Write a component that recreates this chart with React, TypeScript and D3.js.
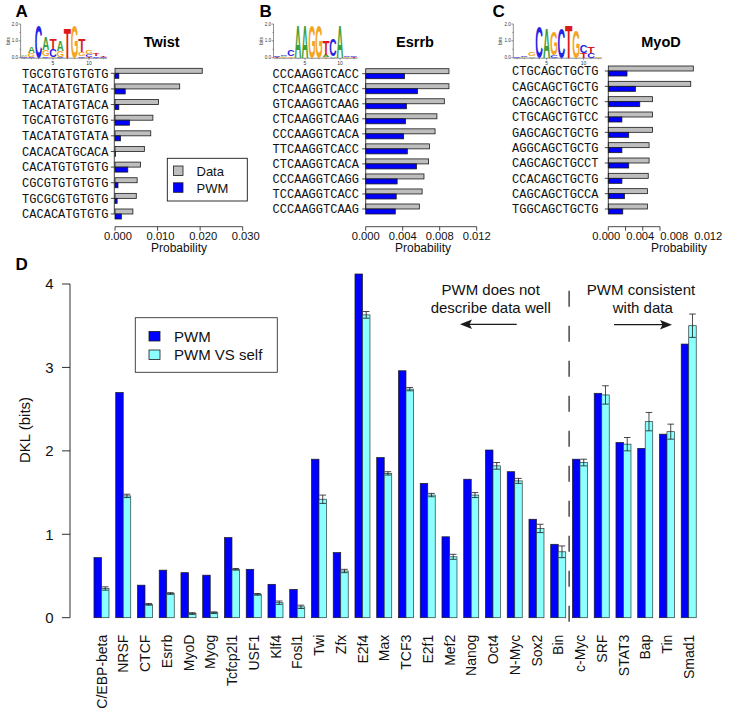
import React from "react";
import * as d3 from "d3";

// ---------------- DATA ----------------
const TWIST_SEQS = ["TGCGTGTGTGTG","TACATATGTATG","TACATATGTACA","TGCATGTGTGTG","TACATATGTATA","CACACATGCACA","CACATGTGTGTG","CGCGTGTGTGTG","TGCGCGTGTGTG","CACACATGTGTG"];
const TWIST_DATA = [0.0205,0.0152,0.0102,0.0089,0.0084,0.0069,0.0060,0.0052,0.0050,0.0042];
const TWIST_PWM = [0.0009,0.0024,0.0009,0.0034,0.0013,0.0001,0.0030,0.0007,0.0005,0.0015];

const ESRRB_SEQS = ["CCCAAGGTCACC","CTCAAGGTCACC","GTCAAGGTCAAG","CTCAAGGTCAAG","CCCAAGGTCACA","TTCAAGGTCACC","CTCAAGGTCACA","CCCAAGGTCAGG","TCCAAGGTCACC","CCCAAGGTCAAG"];
const ESRRB_DATA = [0.0090,0.0090,0.0085,0.0077,0.0075,0.0069,0.0068,0.0063,0.0061,0.0058];
const ESRRB_PWM = [0.0042,0.0056,0.0044,0.0043,0.0041,0.0045,0.0055,0.0034,0.0033,0.0032];

const MYOD_SEQS = ["CTGCAGCTGCTG","CAGCAGCTGCTG","CAGCAGCTGCTC","CTGCAGCTGTCC","GAGCAGCTGCTG","AGGCAGCTGCTG","CAGCAGCTGCCT","CCACAGCTGCTG","CAGCAGCTGCCA","TGGCAGCTGCTG"];
const MYOD_DATA = [0.0100,0.0097,0.0052,0.0052,0.0052,0.0048,0.0048,0.0047,0.0046,0.0046];
const MYOD_PWM = [0.0022,0.0032,0.0037,0.0016,0.0024,0.0016,0.0024,0.0016,0.0019,0.0017];

const TICKS_A = [0, 0.01, 0.02, 0.03];
const TICKS_BC = [0, 0.004, 0.008, 0.012];

type Col = [string, number][];
const TWIST_LOGO: Col[] = [
  [["C",0.04],["G",0.04],["A",0.05]],
  [["C",0.05],["G",0.25],["A",0.35]],
  [["C",2.0]],
  [["C",0.08],["G",0.4],["A",0.75]],
  [["G",0.05],["C",0.45],["T",0.6]],
  [["C",0.05],["G",0.35],["A",0.65]],
  [["T",1.85]],
  [["G",2.0]],
  [["C",0.1],["G",0.25],["T",0.8]],
  [["T",0.05],["C",0.15],["G",0.2]],
  [["C",0.08],["T",0.12]],
  [["C",0.04],["T",0.06]],
];
const ESRRB_LOGO: Col[] = [
  [["T",0.03],["A",0.04],["C",0.05]],
  [["G",0.04],["A",0.05],["C",0.08]],
  [["G",0.1],["C",0.35]],
  [["A",2.0]],
  [["A",2.0]],
  [["G",2.0]],
  [["G",2.0]],
  [["G",0.06],["A",0.12],["T",0.9]],
  [["A",0.08],["C",1.0]],
  [["A",2.0]],
  [["G",0.04],["C",0.05]],
  [["T",0.03],["C",0.04]],
];
const MYOD_LOGO: Col[] = [
  [["C",0.03]],
  [["G",0.04],["C",0.05]],
  [["A",0.1],["G",0.2]],
  [["C",1.9]],
  [["A",1.85]],
  [["C",0.15],["G",1.45]],
  [["C",1.85]],
  [["T",2.0]],
  [["G",1.65]],
  [["T",0.3],["C",0.45]],
  [["C",0.3],["T",0.4]],
  [["G",0.04]],
];

const D_CATS = ["C/EBP-beta","NRSF","CTCF","Esrrb","MyoD","Myog","Tcfcp2l1","USF1","Klf4","Fosl1","Twi","Zfx","E2f4","Max","TCF3","E2f1","Mef2","Nanog","Oct4","N-Myc","Sox2","Bin","c-Myc","SRF","STAT3","Bap","Tin","Smad1"];
const D_PWM = [0.72,2.70,0.39,0.57,0.54,0.51,0.96,0.58,0.40,0.34,1.90,0.78,4.12,1.92,2.96,1.61,0.97,1.66,2.01,1.75,1.18,0.88,1.90,2.69,2.10,2.03,2.20,3.28];
const D_SELF = [0.35,1.46,0.16,0.29,0.05,0.06,0.58,0.28,0.18,0.13,1.42,0.56,3.63,1.73,2.74,1.47,0.73,1.47,1.82,1.64,1.07,0.79,1.86,2.67,2.08,2.35,2.23,3.50];
const D_ERR = [0.02,0.02,0.01,0.01,0.01,0.01,0.01,0.01,0.02,0.02,0.05,0.02,0.04,0.02,0.02,0.02,0.03,0.03,0.04,0.03,0.05,0.07,0.04,0.11,0.08,0.11,0.09,0.14];
const D_Y_TICKS = [0, 1, 2, 3, 4];

// ---------------- STYLE ----------------
const FONT = "'Liberation Sans', Arial, Helvetica, sans-serif";
const MONO = "'Liberation Mono', 'Courier New', monospace";
const INK = "#1a1a1a";
const BLUE = "#0000FF";
const CYAN = "#8CFFFF";
const GRAY = "#BEBEBE";
const LETTER_COLORS: Record<string, string> = { A: "#3E9E3A", C: "#2424E6", G: "#F2A51F", T: "#DC1A1A" };
const LETTER_INK: Record<string, number> = { A: 7.0, C: 6.6, G: 7.0, T: 5.8 };

function Logo({ cols, x0, w, y0, bpx }: { cols: Col[]; x0: number; w: number; y0: number; bpx: number }) {
  const n = cols.length;
  const xs = d3.scaleLinear().domain([0.5, n + 0.5]).range([x0, x0 + n * w]);
  const ys = d3.scaleLinear().domain([0, 2]).range([y0, y0 - 2 * bpx]);
  const letters: JSX.Element[] = [];
  cols.forEach((col, i) => {
    let yb = ys(0);
    col.forEach(([ch, b], j) => {
      const h = ys(0) - ys(b);
      const sx = (w * 0.95) / LETTER_INK[ch];
      const sy = h / 7.2;
      letters.push(
        <text key={`${i}-${j}`} transform={`translate(${xs(i + 1)},${yb}) scale(${sx},${sy})`} textAnchor="middle"
          fontFamily={FONT} fontWeight="bold" fontSize={10} fill={LETTER_COLORS[ch]}>{ch}</text>
      );
      yb -= h;
    });
  });
  return (
    <g>
      <line x1={x0} x2={x0} y1={ys(0)} y2={ys(2)} stroke="#444" strokeWidth={0.6} />
      {[0, 0.5, 1, 1.5, 2].map((t) => (
        <line key={t} x1={x0 - (t % 1 === 0 ? 2 : 1)} x2={x0} y1={ys(t)} y2={ys(t)} stroke="#444" strokeWidth={0.6} />
      ))}
      {[0, 1, 2].map((t) => (
        <text key={t} x={x0 - 2.5} y={ys(t)} dy="0.35em" textAnchor="end" fontFamily={FONT} fontSize={4.5} fill="#333">{t.toFixed(1)}</text>
      ))}
      <text transform={`translate(${x0 - 11},${ys(1)}) rotate(-90)`} textAnchor="middle" fontFamily={FONT} fontSize={5} fill="#333">bits</text>
      <line x1={x0} x2={xs(n + 0.5)} y1={ys(0) + 0.5} y2={ys(0) + 0.5} stroke="#444" strokeWidth={0.6} />
      {d3.range(1, n + 1).map((p) => (
        <line key={p} x1={xs(p)} x2={xs(p)} y1={ys(0) + 0.5} y2={ys(0) + (p % 5 === 0 ? 2.5 : 1.5)} stroke="#444" strokeWidth={0.5} />
      ))}
      {[5, 10].map((p) => (
        <text key={p} x={xs(p)} y={ys(0) + 7} textAnchor="middle" fontFamily={FONT} fontSize={5} fill="#333">{p}</text>
      ))}
      {letters}
    </g>
  );
}

type PanelCfg = {
  letter: string; letterX: number;
  domainMax: number; ticks: number[]; range: [number, number]; tickRange?: [number, number]; labelDx: number;
  rows: [number, number]; labelEnd: number; axisX: number;
  title: string; titleX: number; probX: number;
  logo: Col[]; logoX0: number; logoW: number;
  legend?: boolean;
};

function ProbPanel({ seqs, data, pwm, cfg }: { seqs: string[]; data: number[]; pwm: number[]; cfg: PanelCfg }) {
  const x = d3.scaleLinear().domain([0, cfg.domainMax]).range(cfg.range);
  const xt = cfg.tickRange ? d3.scaleLinear().domain([0, cfg.domainMax]).range(cfg.tickRange) : x;
  const y = d3.scalePoint<number>().domain(d3.range(seqs.length)).range(cfg.rows);
  const barH = 5;
  const axisY = 226.7;
  return (
    <g>
      <text x={cfg.letterX} y={17} fontFamily={FONT} fontWeight="bold" fontSize={17} fill="#000">{cfg.letter}</text>
      <Logo cols={cfg.logo} x0={cfg.logoX0} w={cfg.logoW} y0={57.7} bpx={16.85} />
      <text x={cfg.titleX} y={47.3} textAnchor="middle" fontFamily={FONT} fontWeight="bold" fontSize={14.5} fill="#000">{cfg.title}</text>
      {seqs.map((s, i) => (
        <g key={i}>
          <rect x={x(0)} y={(y(i) as number) - barH} width={x(data[i]) - x(0)} height={barH} fill={GRAY} stroke={INK} strokeWidth={0.8} />
          <rect x={x(0)} y={y(i) as number} width={Math.max(0.4, x(pwm[i]) - x(0))} height={barH} fill={BLUE} stroke={INK} strokeWidth={0.8} />
          <line x1={cfg.axisX - 3.5} x2={cfg.axisX} y1={y(i) as number} y2={y(i) as number} stroke={INK} strokeWidth={0.8} />
          <text x={cfg.labelEnd} y={y(i) as number} dy="0.35em" textAnchor="end" fontFamily={MONO} fontSize={12} fill="#111">{s}</text>
        </g>
      ))}
      <line x1={cfg.axisX} x2={cfg.axisX} y1={y(0) as number} y2={y(seqs.length - 1) as number} stroke={INK} strokeWidth={0.8} />
      <line x1={xt(0)} x2={xt(cfg.domainMax)} y1={axisY} y2={axisY} stroke={INK} strokeWidth={0.8} />
      {cfg.ticks.map((t) => (
        <g key={t}>
          <line x1={xt(t)} x2={xt(t)} y1={axisY} y2={axisY + 4} stroke={INK} strokeWidth={0.8} />
          <text x={x(t) + cfg.labelDx} y={240} textAnchor="middle" fontFamily={FONT} fontSize={11.2} fill="#111">{t.toFixed(3)}</text>
        </g>
      ))}
      <text x={cfg.probX} y={252} textAnchor="middle" fontFamily={FONT} fontSize={12} fill="#111">Probability</text>
      {cfg.legend && (
        <g>
          <rect x={167.3} y={158.3} width={80} height={42.7} fill="#fff" stroke={INK} strokeWidth={0.9} />
          <rect x={173.5} y={166} width={9.5} height={9.5} fill={GRAY} stroke={INK} strokeWidth={0.8} />
          <rect x={173.5} y={182.8} width={9.5} height={9.5} fill={BLUE} stroke={INK} strokeWidth={0.8} />
          <text x={196.5} y={176.2} fontFamily={FONT} fontSize={13} fill="#111">Data</text>
          <text x={196.5} y={193} fontFamily={FONT} fontSize={13} fill="#111">PWM</text>
        </g>
      )}
    </g>
  );
}

function PanelD() {
  const x = d3.scaleBand<string>().domain(D_CATS).range([90.6, 699.6]).paddingInner(0.31).paddingOuter(0.155);
  const y = d3.scaleLinear().domain([0, 4]).range([617.7, 284]);
  const bw = x.bandwidth() / 2;
  const axisX = 70;
  const iBin = D_CATS.indexOf("Bin");
  const dashX = ((x(D_CATS[iBin]) as number) + 2 * bw + (x(D_CATS[iBin + 1]) as number)) / 2;
  return (
    <g>
      <text x={15.5} y={269.5} fontFamily={FONT} fontWeight="bold" fontSize={17} fill="#000">D</text>
      <line x1={axisX} x2={axisX} y1={y(0)} y2={y(4)} stroke={INK} strokeWidth={0.9} />
      {D_Y_TICKS.map((t) => (
        <g key={t}>
          <line x1={axisX - 8} x2={axisX} y1={y(t)} y2={y(t)} stroke={INK} strokeWidth={0.9} />
          <text x={53.5} y={y(t)} dy="0.36em" textAnchor="end" fontFamily={FONT} fontSize={15} fill="#111">{t}</text>
        </g>
      ))}
      <text transform={`translate(25,${y(2.25)}) rotate(-90)`} dy="0.36em" textAnchor="middle" fontFamily={FONT} fontSize={15} fill="#111">DKL (bits)</text>
      {D_CATS.map((c, i) => {
        const x0 = x(c) as number;
        const cx = x0 + bw * 1.5;
        const lo = y(D_SELF[i] - D_ERR[i]);
        const hi = y(D_SELF[i] + D_ERR[i]);
        return (
          <g key={c}>
            <rect x={x0} y={y(D_PWM[i])} width={bw} height={y(0) - y(D_PWM[i])} fill={BLUE} stroke={INK} strokeWidth={0.7} />
            <rect x={x0 + bw} y={y(D_SELF[i])} width={bw} height={y(0) - y(D_SELF[i])} fill={CYAN} stroke="#2a3a3a" strokeWidth={0.7} />
            <line x1={cx} x2={cx} y1={lo} y2={hi} stroke={INK} strokeWidth={0.8} />
            <line x1={cx - 3.3} x2={cx + 3.3} y1={lo} y2={lo} stroke={INK} strokeWidth={0.8} />
            <line x1={cx - 3.3} x2={cx + 3.3} y1={hi} y2={hi} stroke={INK} strokeWidth={0.8} />
            <text transform={`translate(${x0 + bw},${y(0) + 17}) rotate(-90)`} dy="0.36em" textAnchor="end" fontFamily={FONT} fontSize={14} fill="#111">{c}</text>
          </g>
        );
      })}
      <line x1={dashX} x2={dashX} y1={y(0) + 4} y2={y(4) - 9} stroke={INK} strokeWidth={1.2} strokeDasharray="16,19" />
      {/* legend */}
      <rect x={135.3} y={317.7} width={142} height={54.6} fill="#fff" stroke="#333" strokeWidth={0.9} />
      <rect x={149} y={331.5} width={11} height={9.5} fill={BLUE} stroke={INK} strokeWidth={0.8} />
      <rect x={149} y={350} width={11} height={9.5} fill={CYAN} stroke={INK} strokeWidth={0.8} />
      <text x={174} y={341.7} fontFamily={FONT} fontSize={15} fill="#111">PWM</text>
      <text x={174} y={360} fontFamily={FONT} fontSize={15} fill="#111">PWM VS self</text>
      {/* annotations */}
      <text x={490.7} y={294.5} textAnchor="middle" fontFamily={FONT} fontSize={15} fill="#111">PWM does not</text>
      <text x={490.7} y={312.5} textAnchor="middle" fontFamily={FONT} fontSize={15} fill="#111">describe data well</text>
      <line x1={516.7} x2={468} y1={324.3} y2={324.3} stroke={INK} strokeWidth={1.2} />
      <path d="M460,324.3 L472,319.6 L469.5,324.3 L472,329 Z" fill={INK} />
      <text x={641} y={294.5} textAnchor="middle" fontFamily={FONT} fontSize={15} fill="#111">PWM consistent</text>
      <text x={642.8} y={312.5} textAnchor="middle" fontFamily={FONT} fontSize={15} fill="#111">with data</text>
      <line x1={614} x2={664} y1={324.7} y2={324.7} stroke={INK} strokeWidth={1.2} />
      <path d="M672,324.7 L660,320 L662.5,324.7 L660,329.4 Z" fill={INK} />
    </g>
  );
}

const CFG_A: PanelCfg = {
  letter: "A", letterX: 15.5, domainMax: 0.03, ticks: TICKS_A, range: [115, 242.7], labelDx: 3,
  rows: [73.3, 214], labelEnd: 108.5, axisX: 114.3, title: "Twist", titleX: 161.7, probX: 179,
  logo: TWIST_LOGO, logoX0: 20.6, logoW: 7.2, legend: true,
};
const CFG_B: PanelCfg = {
  letter: "B", letterX: 259.5, domainMax: 0.012, ticks: TICKS_BC, range: [365.7, 476.7], labelDx: 0,
  rows: [73.7, 209], labelEnd: 359, axisX: 365.7, title: "Esrrb", titleX: 415, probX: 423,
  logo: ESRRB_LOGO, logoX0: 273.5, logoW: 7.0,
};
const CFG_C: PanelCfg = {
  letter: "C", letterX: 492.5, domainMax: 0.012, ticks: TICKS_BC, range: [608.3, 710.3], tickRange: [608.3, 660], labelDx: -2,
  rows: [71, 209], labelEnd: 598.5, axisX: 608.3, title: "MyoD", titleX: 661, probX: 679,
  logo: MYOD_LOGO, logoX0: 513.3, logoW: 7.4,
};

export default function App() {
  return (
    <svg width={735} height={720} viewBox="0 0 735 720" style={{ position: "absolute", left: 0, top: 0, display: "block", background: "#fff" }}>
      <rect x={0} y={0} width={735} height={720} fill="#fff" />
      <ProbPanel seqs={TWIST_SEQS} data={TWIST_DATA} pwm={TWIST_PWM} cfg={CFG_A} />
      <ProbPanel seqs={ESRRB_SEQS} data={ESRRB_DATA} pwm={ESRRB_PWM} cfg={CFG_B} />
      <ProbPanel seqs={MYOD_SEQS} data={MYOD_DATA} pwm={MYOD_PWM} cfg={CFG_C} />
      <PanelD />
    </svg>
  );
}
